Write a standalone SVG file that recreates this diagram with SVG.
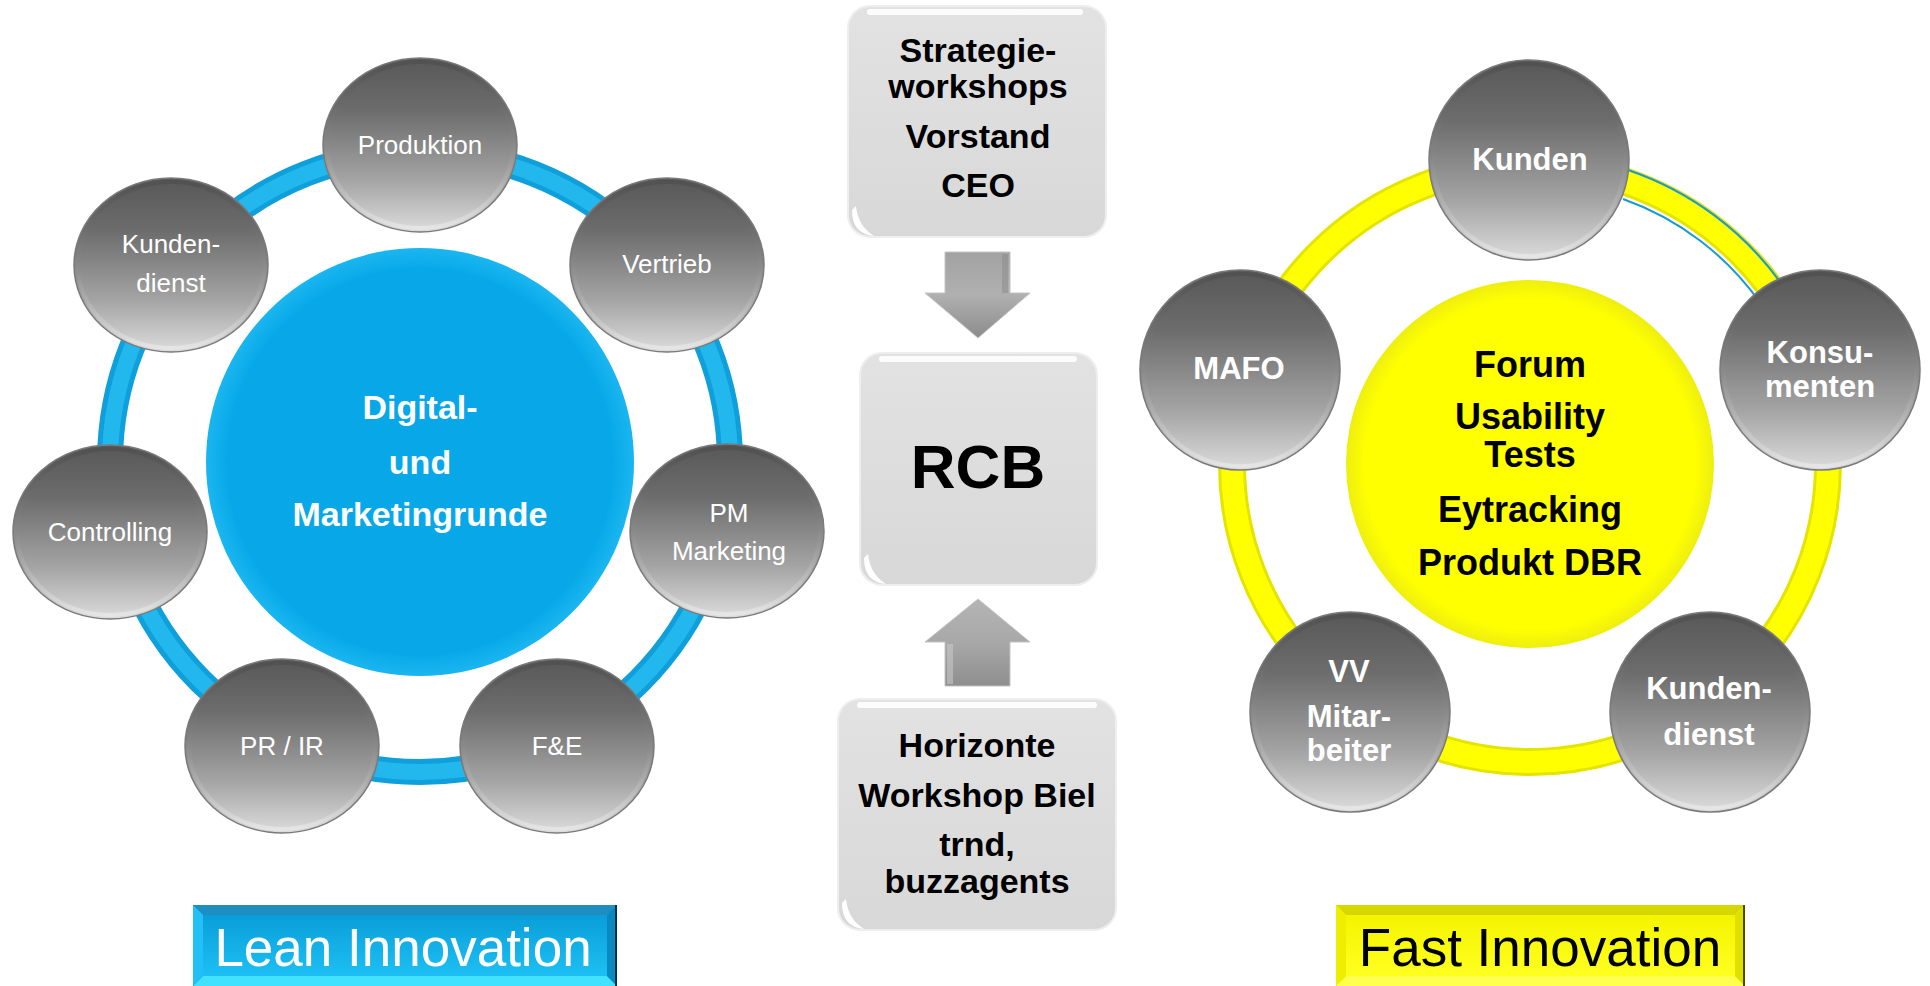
<svg xmlns="http://www.w3.org/2000/svg" width="1930" height="986" viewBox="0 0 1930 986">
<defs>
  <linearGradient id="sphere" x1="0" y1="0" x2="0" y2="1">
    <stop offset="0" stop-color="#585858"/>
    <stop offset="0.3" stop-color="#6c6c6c"/>
    <stop offset="0.7" stop-color="#a4a4a4"/>
    <stop offset="1" stop-color="#dcdcdc"/>
  </linearGradient>
  <linearGradient id="rim" x1="0" y1="0" x2="0" y2="1">
    <stop offset="0" stop-color="#4a4a4a"/>
    <stop offset="0.5" stop-color="#8a8a8a"/>
    <stop offset="1" stop-color="#f0f0f0"/>
  </linearGradient>
  <radialGradient id="blueDisc" cx="0.5" cy="0.5" r="0.5">
    <stop offset="0.9" stop-color="#08a8e8"/>
    <stop offset="1" stop-color="#1ab6f0"/>
  </radialGradient>
  <radialGradient id="yellowDisc" cx="0.5" cy="0.5" r="0.5">
    <stop offset="0.9" stop-color="#ffff00"/>
    <stop offset="1" stop-color="#eeee10"/>
  </radialGradient>
  <linearGradient id="box" x1="0" y1="0" x2="0" y2="1">
    <stop offset="0" stop-color="#e2e2e2"/>
    <stop offset="1" stop-color="#d8d8d8"/>
  </linearGradient>
  <linearGradient id="arrowDown" x1="0" y1="0" x2="0" y2="1">
    <stop offset="0" stop-color="#a2a2a2"/>
    <stop offset="0.5" stop-color="#b0b0b0"/>
    <stop offset="1" stop-color="#8c8c8c"/>
  </linearGradient>
  <linearGradient id="arrowUp" x1="0" y1="0" x2="0" y2="1">
    <stop offset="0" stop-color="#b4b4b4"/>
    <stop offset="0.5" stop-color="#a8a8a8"/>
    <stop offset="1" stop-color="#8e8e8e"/>
  </linearGradient>
  <linearGradient id="blueFace" x1="0" y1="0" x2="0" y2="1">
    <stop offset="0" stop-color="#0a9ed8"/>
    <stop offset="1" stop-color="#1cc0f4"/>
  </linearGradient>
  <linearGradient id="yellowFace" x1="0" y1="0" x2="0" y2="1">
    <stop offset="0" stop-color="#f4f400"/>
    <stop offset="1" stop-color="#ffff20"/>
  </linearGradient>
  <style>
    .sph { fill: url(#sphere); stroke: #7a7a7a; stroke-width: 1.5; }
    .rim { fill: none; stroke: url(#rim); stroke-width: 4; opacity: 0.55; }
    .ls { font-family: "Liberation Sans", Arial, sans-serif; font-size: 26px; fill: #ffffff; text-anchor: middle; }
    .rs { font-family: "Liberation Sans", Arial, sans-serif; font-size: 31px; font-weight: bold; fill: #ffffff; text-anchor: middle; }
    .bc { font-family: "Liberation Sans", Arial, sans-serif; font-size: 34px; font-weight: bold; fill: #ffffff; text-anchor: middle; }
    .yc { font-family: "Liberation Sans", Arial, sans-serif; font-size: 36px; font-weight: bold; fill: #000000; text-anchor: middle; }
    .mt { font-family: "Liberation Sans", Arial, sans-serif; font-size: 34px; font-weight: bold; fill: #000000; text-anchor: middle; }
    .lbl { font-family: "Liberation Sans", Arial, sans-serif; font-size: 53px; text-anchor: middle; }
    .gbox { fill: url(#box); stroke: #eeeeee; stroke-width: 2; }
    .hl { fill: none; stroke: #ffffff; stroke-width: 6; stroke-linecap: round; opacity: 0.9; }
  </style>
</defs>
<rect width="1930" height="986" fill="#ffffff"/>

<!-- rings and arrows -->
<g id="connectors">
  <circle cx="420" cy="462" r="310" fill="none" stroke="#0f9fda" stroke-width="26"/>
  <circle cx="420" cy="462" r="310" fill="none" stroke="#22b8ee" stroke-width="16"/>
  <circle cx="1530" cy="464" r="298" fill="none" stroke="#e4e400" stroke-width="28"/>
  <circle cx="1530" cy="464" r="298" fill="none" stroke="#ffff00" stroke-width="22"/>
  <path d="M 1628 170 A 312 312 0 0 1 1783 286" fill="none" stroke="#1a9ad0" stroke-width="2"/>
  <path d="M 1623 199 A 284 284 0 0 1 1761 304" fill="none" stroke="#1a9ad0" stroke-width="2"/>
  <g id="arrow-down">
    <path d="M 945 252 L 1010 252 L 1010 293 L 1030 293 L 978 338 L 925 293 L 945 293 Z" fill="url(#arrowDown)" stroke="#c4c4c4" stroke-width="1"/>
    <path d="M 1002 254 L 1008 254 L 1008 293 L 1002 293 Z" fill="#8a8a8a" opacity="0.5"/>
  </g>
  <g id="arrow-up">
    <path d="M 978 599 L 1030 642 L 1010 642 L 1010 686 L 945 686 L 945 642 L 925 642 Z" fill="url(#arrowUp)" stroke="#c4c4c4" stroke-width="1"/>
    <path d="M 947 644 L 953 644 L 953 684 L 947 684 Z" fill="#c8c8c8" opacity="0.6"/>
  </g>
</g>

<!-- left cluster -->
<g id="digital-marketingrunde">
  <circle cx="420" cy="462" r="214" fill="url(#blueDisc)"/>
  <text class="bc" x="420" y="419">Digital-</text>
  <text class="bc" x="420" y="474">und</text>
  <text class="bc" x="420" y="526">Marketingrunde</text>
</g>
<g id="produktion">
  <ellipse class="sph" cx="420" cy="145" rx="97" ry="87"/>
  <ellipse class="rim" cx="420" cy="145" rx="93" ry="83"/>
  <text class="ls" x="420" y="154">Produktion</text>
</g>
<g id="vertrieb">
  <ellipse class="sph" cx="667" cy="265" rx="97" ry="87"/>
  <ellipse class="rim" cx="667" cy="265" rx="93" ry="83"/>
  <text class="ls" x="667" y="273">Vertrieb</text>
</g>
<g id="pm-marketing">
  <ellipse class="sph" cx="727" cy="531" rx="97" ry="87"/>
  <ellipse class="rim" cx="727" cy="531" rx="93" ry="83"/>
  <text class="ls" x="729" y="522">PM</text>
  <text class="ls" x="729" y="560">Marketing</text>
</g>
<g id="fe">
  <ellipse class="sph" cx="557" cy="746" rx="97" ry="87"/>
  <ellipse class="rim" cx="557" cy="746" rx="93" ry="83"/>
  <text class="ls" x="557" y="755">F&amp;E</text>
</g>
<g id="pr-ir">
  <ellipse class="sph" cx="282" cy="746" rx="97" ry="87"/>
  <ellipse class="rim" cx="282" cy="746" rx="93" ry="83"/>
  <text class="ls" x="282" y="755">PR / IR</text>
</g>
<g id="controlling">
  <ellipse class="sph" cx="110" cy="532" rx="97" ry="87"/>
  <ellipse class="rim" cx="110" cy="532" rx="93" ry="83"/>
  <text class="ls" x="110" y="541">Controlling</text>
</g>
<g id="kundendienst-left">
  <ellipse class="sph" cx="171" cy="265" rx="97" ry="87"/>
  <ellipse class="rim" cx="171" cy="265" rx="93" ry="83"/>
  <text class="ls" x="171" y="253">Kunden-</text>
  <text class="ls" x="171" y="292">dienst</text>
</g>

<!-- middle column -->
<g id="strategieworkshops">
  <rect class="gbox" x="848" y="6" width="258" height="231" rx="22"/>
  <path class="hl" d="M 870 12 L 1080 12"/>
  <path d="M 852 210 Q 852 234 874 236 Q 858 226 856 206 Z" fill="#ffffff"/>
  <text class="mt" x="978" y="62">Strategie-</text>
  <text class="mt" x="978" y="98">workshops</text>
  <text class="mt" x="978" y="148">Vorstand</text>
  <text class="mt" x="978" y="197">CEO</text>
</g>
<g id="rcb">
  <rect class="gbox" x="860" y="353" width="237" height="232" rx="22"/>
  <path class="hl" d="M 882 359 L 1074 359"/>
  <path d="M 864 558 Q 864 582 886 584 Q 870 574 868 554 Z" fill="#ffffff"/>
  <text x="978" y="488" font-family="Liberation Sans, Arial, sans-serif" font-size="62" font-weight="bold" fill="#000000" text-anchor="middle">RCB</text>
</g>
<g id="horizonte">
  <rect class="gbox" x="838" y="699" width="278" height="231" rx="22"/>
  <path class="hl" d="M 860 705 L 1094 705"/>
  <path d="M 842 903 Q 842 927 864 929 Q 848 919 846 899 Z" fill="#ffffff"/>
  <text class="mt" x="977" y="757">Horizonte</text>
  <text class="mt" x="977" y="807">Workshop Biel</text>
  <text class="mt" x="977" y="856">trnd,</text>
  <text class="mt" x="977" y="893">buzzagents</text>
</g>

<!-- right cluster -->
<g id="forum-center">
  <circle cx="1530" cy="464" r="184" fill="url(#yellowDisc)"/>
  <text class="yc" x="1530" y="377">Forum</text>
  <text class="yc" x="1530" y="429">Usability</text>
  <text class="yc" x="1530" y="467">Tests</text>
  <text class="yc" x="1530" y="522">Eytracking</text>
  <text class="yc" x="1530" y="575">Produkt DBR</text>
</g>
<g id="kunden">
  <circle class="sph" cx="1529" cy="160" r="100"/>
  <circle class="rim" cx="1529" cy="160" r="96"/>
  <text class="rs" x="1530" y="170">Kunden</text>
</g>
<g id="konsumenten">
  <circle class="sph" cx="1820" cy="370" r="100"/>
  <circle class="rim" cx="1820" cy="370" r="96"/>
  <text class="rs" x="1820" y="363">Konsu-</text>
  <text class="rs" x="1820" y="397">menten</text>
</g>
<g id="kundendienst-right">
  <circle class="sph" cx="1710" cy="712" r="100"/>
  <circle class="rim" cx="1710" cy="712" r="96"/>
  <text class="rs" x="1709" y="699">Kunden-</text>
  <text class="rs" x="1709" y="745">dienst</text>
</g>
<g id="vv-mitarbeiter">
  <circle class="sph" cx="1350" cy="712" r="100"/>
  <circle class="rim" cx="1350" cy="712" r="96"/>
  <text class="rs" x="1349" y="682">VV</text>
  <text class="rs" x="1349" y="727">Mitar-</text>
  <text class="rs" x="1349" y="761">beiter</text>
</g>
<g id="mafo">
  <circle class="sph" cx="1240" cy="370" r="100"/>
  <circle class="rim" cx="1240" cy="370" r="96"/>
  <text class="rs" x="1239" y="379">MAFO</text>
</g>

<!-- bottom labels -->
<g id="lean-innovation">
  <rect x="193" y="905" width="424" height="81" fill="#0a9ed8"/>
  <polygon points="193,905 617,905 607,915 203,915" fill="#1e8ec0"/>
  <polygon points="193,986 203,976 607,976 617,986" fill="#40e2ff"/>
  <polygon points="193,905 203,915 203,976 193,986" fill="#22c0f4"/>
  <polygon points="617,905 607,915 607,976 617,986" fill="#0a88c0"/>
  <rect x="203" y="915" width="404" height="61" fill="url(#blueFace)"/>
  <line x1="616" y1="905" x2="616" y2="986" stroke="#00304a" stroke-width="2"/>
  <text class="lbl" x="403" y="966" fill="#ffffff">Lean Innovation</text>
</g>
<g id="fast-innovation">
  <rect x="1336" y="905" width="409" height="81" fill="#f4f400"/>
  <polygon points="1336,905 1745,905 1735,915 1346,915" fill="#d6d600"/>
  <polygon points="1336,986 1346,976 1735,976 1745,986" fill="#ffff50"/>
  <polygon points="1336,905 1346,915 1346,976 1336,986" fill="#eeee00"/>
  <polygon points="1745,905 1735,915 1735,976 1745,986" fill="#e0e000"/>
  <rect x="1346" y="915" width="389" height="61" fill="url(#yellowFace)"/>
  <line x1="1744" y1="905" x2="1744" y2="986" stroke="#4a4a00" stroke-width="2"/>
  <text class="lbl" x="1540" y="966" fill="#000000">Fast Innovation</text>
</g>
</svg>
